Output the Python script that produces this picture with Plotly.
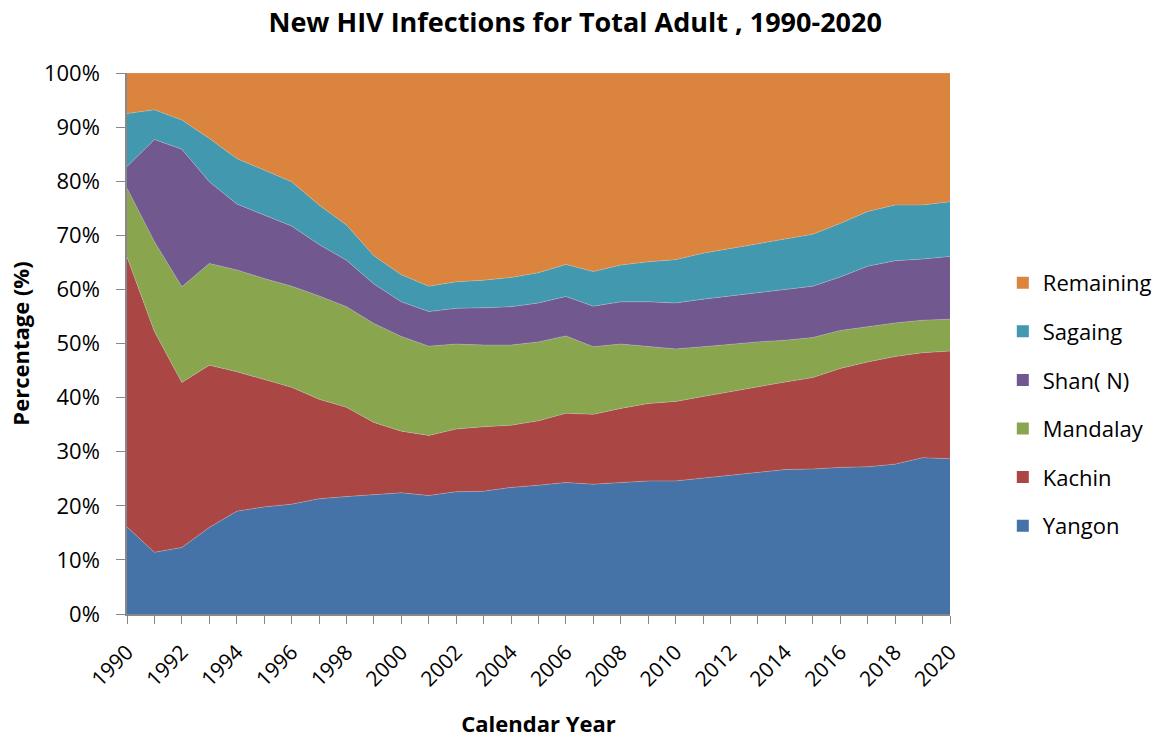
import plotly.graph_objects as go

years = list(range(1990, 2021))

yangon = [16.1, 11.4, 12.3, 16.0, 19.0, 19.8, 20.3, 21.3, 21.7, 22.1, 22.4, 21.9, 22.6, 22.7, 23.4, 23.8,
          24.3, 24.0, 24.3, 24.6, 24.6, 25.1, 25.7, 26.2, 26.7, 26.8, 27.1, 27.2, 27.7, 28.9, 28.7]
kachin = [49.9, 40.8, 30.5, 30.0, 25.8, 23.5, 21.6, 18.4, 16.5, 13.3, 11.4, 11.1, 11.6, 11.9, 11.5, 11.9,
          12.8, 12.9, 13.7, 14.3, 14.7, 15.1, 15.4, 15.9, 16.2, 16.9, 18.3, 19.4, 19.9, 19.4, 19.9]
mandalay = [12.7, 16.6, 17.7, 18.8, 18.8, 18.7, 18.7, 19.1, 18.6, 18.3, 17.5, 16.5, 15.7, 15.1, 14.8, 14.6,
            14.3, 12.5, 11.9, 10.6, 9.7, 9.2, 8.8, 8.2, 7.7, 7.4, 7.0, 6.5, 6.2, 6.0, 5.9]
shan_n = [4.0, 18.9, 25.4, 15.1, 12.2, 11.8, 11.1, 9.5, 8.6, 7.3, 6.4, 6.4, 6.6, 6.9, 7.1, 7.2,
          7.3, 7.5, 7.8, 8.2, 8.5, 8.8, 8.9, 9.1, 9.4, 9.5, 9.9, 11.2, 11.5, 11.3, 11.6]
sagaing = [9.8, 5.5, 5.4, 8.0, 8.4, 8.3, 8.2, 7.3, 6.5, 5.2, 5.0, 4.7, 4.9, 5.1, 5.4, 5.6,
           5.9, 6.4, 6.8, 7.4, 8.0, 8.5, 8.8, 9.1, 9.4, 9.6, 9.9, 10.1, 10.3, 10.0, 10.1]
remaining = [7.5, 6.8, 8.7, 12.1, 15.8, 17.9, 20.1, 24.4, 28.1, 33.8, 37.3, 39.4, 38.6, 38.3, 37.8, 36.9,
             35.4, 36.7, 35.5, 34.9, 34.5, 33.3, 32.4, 31.5, 30.6, 29.8, 27.8, 25.6, 24.4, 24.4, 23.8]

series = [
    ("Yangon", yangon, "#4572A7"),
    ("Kachin", kachin, "#AA4643"),
    ("Mandalay", mandalay, "#89A54E"),
    ("Shan( N)", shan_n, "#71588F"),
    ("Sagaing", sagaing, "#4198AF"),
    ("Remaining", remaining, "#DB843D"),
]

y_ticks = list(range(0, 101, 10))
y_labels = [f"{v}%" for v in y_ticks]
x_ticks = list(range(1990, 2021, 2))

fig = go.Figure()
for name, vals, color in series:
    fig.add_trace(go.Scatter(
        x=years, y=vals, name=name, mode="lines", stackgroup="one", groupnorm="percent",
        line=dict(width=0.6, color="rgba(200,200,200,0.6)"), fillcolor=color, showlegend=False,
    ))
# legend entries with small square swatches (Remaining on top)
for name, vals, color in reversed(series):
    fig.add_trace(go.Scatter(
        x=[None], y=[None], name=name, mode="markers", legendgroup=name,
        marker=dict(symbol="square", size=12, color=color), showlegend=True,
    ))

tick_font = "'Open Sans', 'Noto Sans', sans-serif"
bold_font = "'Open Sans', 'Noto Sans', sans-serif"
fig.update_layout(
    width=1162, height=738,
    margin=dict(l=127, r=212, t=73, b=124, autoexpand=False),
    paper_bgcolor="white", plot_bgcolor="white",
    font=dict(family=tick_font, color="black"),
    title=dict(text="<b>New HIV Infections for Total Adult , 1990-2020</b>",
               x=0.495, xref="container", xanchor="center", y=0.97, yanchor="middle",
               font=dict(size=27, family=bold_font, color="black")),
    showlegend=True,
    legend=dict(traceorder="grouped", xref="container", yref="container",
                x=0.863, xanchor="left", y=0.452, yanchor="middle",
                font=dict(size=22), tracegroupgap=17, itemwidth=30, itemsizing="trace"),
    hovermode=False,
)
fig.update_xaxes(
    range=[1990, 2020], tickvals=x_ticks, ticktext=[str(v) for v in x_ticks],
    tickangle=-45, tickfont=dict(size=21), ticks="outside", ticklen=8, tickcolor="#888",
    ticklabelstandoff=8, automargin=False,
    showline=True, linecolor="#888", linewidth=1.5, showgrid=False, zeroline=False,
    minor=dict(dtick=1, tick0=1990, ticks="outside", ticklen=8, tickcolor="#888", showgrid=False),
    title=dict(text="<b>Calendar Year</b>", font=dict(size=22, family=bold_font), standoff=32),
)
fig.update_yaxes(
    range=[0, 100], tickvals=y_ticks, ticktext=y_labels, tickfont=dict(size=22),
    ticks="outside", ticklen=9, tickcolor="#888", ticklabelstandoff=12, automargin=False,
    showline=True, linecolor="#888", linewidth=1.5, showgrid=False, zeroline=False,
    title=dict(text="<b>Percentage (%)</b>", font=dict(size=22, family=bold_font), standoff=8),
)

fig.write_html("out.html")
